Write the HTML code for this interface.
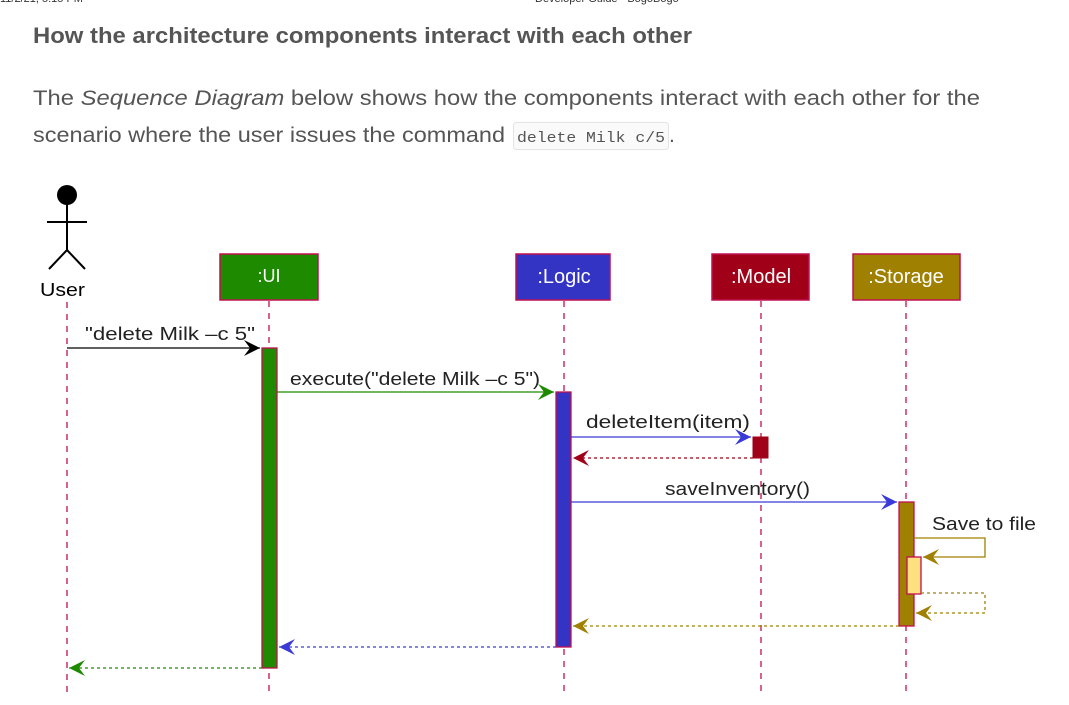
<!DOCTYPE html>
<html><head><meta charset="utf-8"><style>
html,body{margin:0;padding:0;background:#fff;width:1069px;height:705px;overflow:hidden}
svg{display:block}
</style></head><body>
<svg width="1069" height="705" viewBox="0 0 1069 705" xmlns="http://www.w3.org/2000/svg" font-family="'Liberation Sans', sans-serif">
<defs>
<marker id="ab" markerWidth="18" markerHeight="16" refX="16" refY="8" orient="auto" markerUnits="userSpaceOnUse"><path d="M0,0 L16,8 L0,16 L6,8 Z" fill="#000"/></marker>
<marker id="ag" markerWidth="18" markerHeight="16" refX="16" refY="8" orient="auto" markerUnits="userSpaceOnUse"><path d="M0,0 L16,8 L0,16 L6,8 Z" fill="#1e8a00"/></marker>
<marker id="al" markerWidth="18" markerHeight="16" refX="16" refY="8" orient="auto" markerUnits="userSpaceOnUse"><path d="M0,0 L16,8 L0,16 L6,8 Z" fill="#3a3ad6"/></marker>
<marker id="ar" markerWidth="18" markerHeight="16" refX="16" refY="8" orient="auto" markerUnits="userSpaceOnUse"><path d="M0,0 L16,8 L0,16 L6,8 Z" fill="#a00018"/></marker>
<marker id="ay" markerWidth="18" markerHeight="16" refX="16" refY="8" orient="auto" markerUnits="userSpaceOnUse"><path d="M0,0 L16,8 L0,16 L6,8 Z" fill="#a08000"/></marker>
</defs>
<text x="0" y="2" font-size="11" fill="#333">11/2/21, 5:15 PM</text>
<text x="535" y="2" font-size="11" fill="#333">Developer Guide - BogoBogo</text>
<text x="33" y="43" font-size="22" font-weight="bold" fill="#555" textLength="659" lengthAdjust="spacingAndGlyphs">How the architecture components interact with each other</text>
<text x="33" y="105" font-size="21" fill="#555" textLength="947" lengthAdjust="spacingAndGlyphs">The <tspan font-style="italic">Sequence Diagram</tspan> below shows how the components interact with each other for the</text>
<text x="33" y="142" font-size="21" fill="#555" textLength="472" lengthAdjust="spacingAndGlyphs">scenario where the user issues the command</text>
<rect x="513.5" y="122.5" width="155" height="27" rx="3" fill="#fafafa" stroke="#e3e3e3"/>
<text x="517" y="142" font-size="15" font-family="'Liberation Mono', monospace" fill="#555" textLength="148" lengthAdjust="spacingAndGlyphs">delete Milk c/5</text>
<text x="669" y="142" font-size="21" fill="#555">.</text>

<g stroke="#c01050" stroke-width="1.3" stroke-dasharray="6,6">
<line x1="67" y1="302" x2="67" y2="697"/>
<line x1="269" y1="301" x2="269" y2="697"/>
<line x1="564" y1="301" x2="564" y2="697"/>
<line x1="761" y1="301" x2="761" y2="697"/>
<line x1="906" y1="301" x2="906" y2="697"/>
</g>
<circle cx="67" cy="195" r="10" fill="#000"/>
<g stroke="#000" stroke-width="2" fill="none">
<line x1="67" y1="205" x2="67" y2="250"/>
<line x1="47" y1="222" x2="87" y2="222"/>
<polyline points="49,269 67,250 85,269"/>
</g>
<text x="40" y="296" font-size="18" fill="#000" textLength="45" lengthAdjust="spacingAndGlyphs">User</text>
<rect x="220" y="254" width="98" height="46" fill="#1e8a00" stroke="#c01050" stroke-width="1.5"/>
<text x="269" y="282" font-size="18" fill="#fff" text-anchor="middle">:UI</text>
<rect x="516" y="254" width="94" height="46" fill="#3434c4" stroke="#c01050" stroke-width="1.5"/>
<text x="564" y="283" font-size="20" fill="#fff" text-anchor="middle">:Logic</text>
<rect x="712" y="254" width="97" height="46" fill="#a00018" stroke="#c01050" stroke-width="1.5"/>
<text x="761" y="283" font-size="20" fill="#fff" text-anchor="middle">:Model</text>
<rect x="853" y="254" width="107" height="46" fill="#a08000" stroke="#c01050" stroke-width="1.5"/>
<text x="906" y="283" font-size="20" fill="#fff" text-anchor="middle">:Storage</text>

<rect x="262" y="348" width="15" height="320" fill="#1e8a00" stroke="#c01050" stroke-width="1.3"/>
<rect x="556" y="392" width="15" height="255" fill="#3434c4" stroke="#c01050" stroke-width="1.3"/>
<rect x="753" y="437" width="15" height="21" fill="#a00018" stroke="#a00018" stroke-width="1"/>
<rect x="899" y="502" width="15" height="124" fill="#a08000" stroke="#c01050" stroke-width="1.3"/>
<rect x="907" y="557" width="14" height="37" fill="#ffe080" stroke="#c01050" stroke-width="1.3"/>

<line x1="67" y1="348" x2="260" y2="348" stroke="#000" stroke-width="1.3" marker-end="url(#ab)"/>
<text x="85" y="340" font-size="18" fill="#222" textLength="170" lengthAdjust="spacingAndGlyphs">"delete Milk –c 5"</text>
<line x1="277" y1="392" x2="554" y2="392" stroke="#1e8a00" stroke-width="1.3" marker-end="url(#ag)"/>
<text x="290" y="385" font-size="18" fill="#222" textLength="250" lengthAdjust="spacingAndGlyphs">execute("delete Milk –c 5")</text>
<line x1="571" y1="437" x2="751" y2="437" stroke="#3a3ad6" stroke-width="1.3" marker-end="url(#al)"/>
<text x="586" y="428" font-size="18" fill="#222" textLength="164" lengthAdjust="spacingAndGlyphs">deleteItem(item)</text>
<line x1="753" y1="458" x2="573" y2="458" stroke="#a00018" stroke-width="1.3" stroke-dasharray="3,3" marker-end="url(#ar)"/>
<line x1="571" y1="502" x2="897" y2="502" stroke="#3a3ad6" stroke-width="1.3" marker-end="url(#al)"/>
<text x="665" y="495" font-size="18" fill="#222" textLength="145" lengthAdjust="spacingAndGlyphs">saveInventory()</text>
<polyline points="914,538 985,538 985,557 923,557" fill="none" stroke="#a08000" stroke-width="1.3" marker-end="url(#ay)"/>
<text x="932" y="530" font-size="18" fill="#222" textLength="104" lengthAdjust="spacingAndGlyphs">Save to file</text>
<polyline points="921,593 985,593 985,613 916,613" fill="none" stroke="#a08000" stroke-width="1.3" stroke-dasharray="3,3" marker-end="url(#ay)"/>
<line x1="899" y1="626" x2="573" y2="626" stroke="#a08000" stroke-width="1.3" stroke-dasharray="3,3" marker-end="url(#ay)"/>
<line x1="556" y1="647" x2="279" y2="647" stroke="#3a3ad6" stroke-width="1.3" stroke-dasharray="3,3" marker-end="url(#al)"/>
<line x1="262" y1="668" x2="69" y2="668" stroke="#1e8a00" stroke-width="1.3" stroke-dasharray="3,3" marker-end="url(#ag)"/>
</svg>
</body></html>
